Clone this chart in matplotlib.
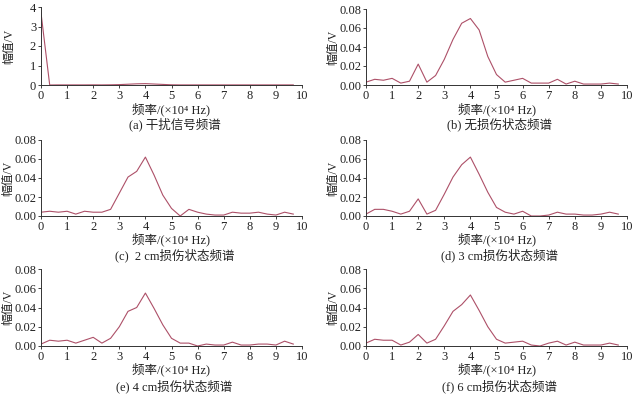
import numpy as np
import matplotlib
matplotlib.use('Agg')
import matplotlib.pyplot as plt

plt.rcParams['font.family'] = ['Liberation Serif', 'Noto Sans CJK SC']

# frequency axis, x 10^4 Hz
freq = [i / 3 for i in range(30)]

amp_a = [3.7, 0.0, 0.005, 0.005, 0.005, 0.005, 0.008, 0.005, 0.01, 0.02,
         0.04, 0.06, 0.07, 0.05, 0.03, 0.01, 0.005, 0.005, 0.005, 0.005,
         0.005, 0.005, 0.005, 0.005, 0.005, 0.005, 0.005, 0.005, 0.005, 0.005]
amp_b = [0.003, 0.006, 0.005, 0.007, 0.002, 0.004, 0.022, 0.003, 0.010, 0.027,
         0.048, 0.065, 0.070, 0.058, 0.030, 0.011, 0.003, 0.005, 0.007, 0.002,
         0.002, 0.002, 0.006, 0.001, 0.004, 0.001, 0.001, 0.001, 0.002, 0.001]
amp_c = [0.004, 0.005, 0.004, 0.005, 0.002, 0.005, 0.004, 0.004, 0.007, 0.024,
         0.041, 0.047, 0.062, 0.043, 0.022, 0.008, 0.000, 0.007, 0.004, 0.002,
         0.001, 0.001, 0.004, 0.003, 0.003, 0.004, 0.002, 0.001, 0.004, 0.002]
amp_d = [0.002, 0.007, 0.007, 0.005, 0.002, 0.005, 0.018, 0.002, 0.006, 0.023,
         0.041, 0.054, 0.062, 0.044, 0.025, 0.009, 0.004, 0.002, 0.005, 0.000,
         0.000, 0.001, 0.004, 0.002, 0.002, 0.001, 0.001, 0.002, 0.004, 0.002]
amp_e = [0.002, 0.006, 0.005, 0.006, 0.003, 0.006, 0.009, 0.003, 0.008, 0.020,
         0.036, 0.040, 0.055, 0.039, 0.022, 0.008, 0.003, 0.003, 0.000, 0.002,
         0.001, 0.001, 0.004, 0.001, 0.001, 0.002, 0.002, 0.001, 0.005, 0.002]
amp_f = [0.003, 0.007, 0.006, 0.006, 0.001, 0.004, 0.012, 0.003, 0.007, 0.021,
         0.036, 0.043, 0.053, 0.037, 0.020, 0.007, 0.003, 0.004, 0.005, 0.001,
         0.000, 0.003, 0.005, 0.001, 0.004, 0.001, 0.001, 0.001, 0.003, 0.001]

titles = ['(a) 干扰信号频谱', '(b) 无损伤状态频谱', '(c)  2 cm损伤状态频谱',
          '(d) 3 cm损伤状态频谱', '(e) 4 cm损伤状态频谱', '(f) 6 cm损伤状态频谱']
series = [amp_a, amp_b, amp_c, amp_d, amp_e, amp_f]

line_color = '#ad5068'
W, H = 640, 394
fig = plt.figure(figsize=(6.4, 3.94), dpi=100)

# pixel boxes: left, top, right, bottom
boxes = [(41, 7, 302, 85), (366, 9, 627, 85),
         (41, 140, 302, 216), (366, 140, 627, 216),
         (41, 269, 302, 346), (366, 269, 627, 346)]
lab_y = [109, 109, 239, 239, 369, 369]
sub_y = [124, 124, 255, 255, 386, 386]
ylab_x = [9, 333, 8, 333, 8, 333]

for k, (l, t, r, b) in enumerate(boxes):
    ax = fig.add_axes([l / W, 1 - b / H, (r - l) / W, (b - t) / H])
    ax.plot(freq, series[k], color=line_color, lw=0.8)
    ax.set_xlim(0, 10)
    ax.set_xticks(range(11))
    if k == 0:
        ax.set_ylim(0, 4)
        ax.set_yticks([0, 1, 2, 3, 4])
    else:
        ax.set_ylim(0, 0.08)
        ax.set_yticks([0, 0.02, 0.04, 0.06, 0.08])
        ax.set_yticklabels(['0.00', '0.02', '0.04', '0.06', '0.08'])
    for s in ['top', 'right']:
        ax.spines[s].set_visible(False)
    for s in ['left', 'bottom']:
        ax.spines[s].set_linewidth(0.7)
        ax.spines[s].set_color('#333333')
    ax.tick_params(labelsize=9, length=2.5, width=0.6, pad=1, colors='#222222')
    cx = (l + r) / 2
    fig.text(cx / W, 1 - lab_y[k] / H, '频率/(×10⁴ Hz)', ha='center', va='center',
             fontsize=9, color='#222222')
    fig.text((cx + 3) / W, 1 - sub_y[k] / H, titles[k], ha='center', va='center',
             fontsize=9, color='#222222')
    fig.text(ylab_x[k] / W, 1 - (t + b) / 2 / H, '幅值/V', rotation=90, ha='center',
             va='center', fontsize=8.5, color='#222222')

fig.savefig('out.png', dpi=100)
